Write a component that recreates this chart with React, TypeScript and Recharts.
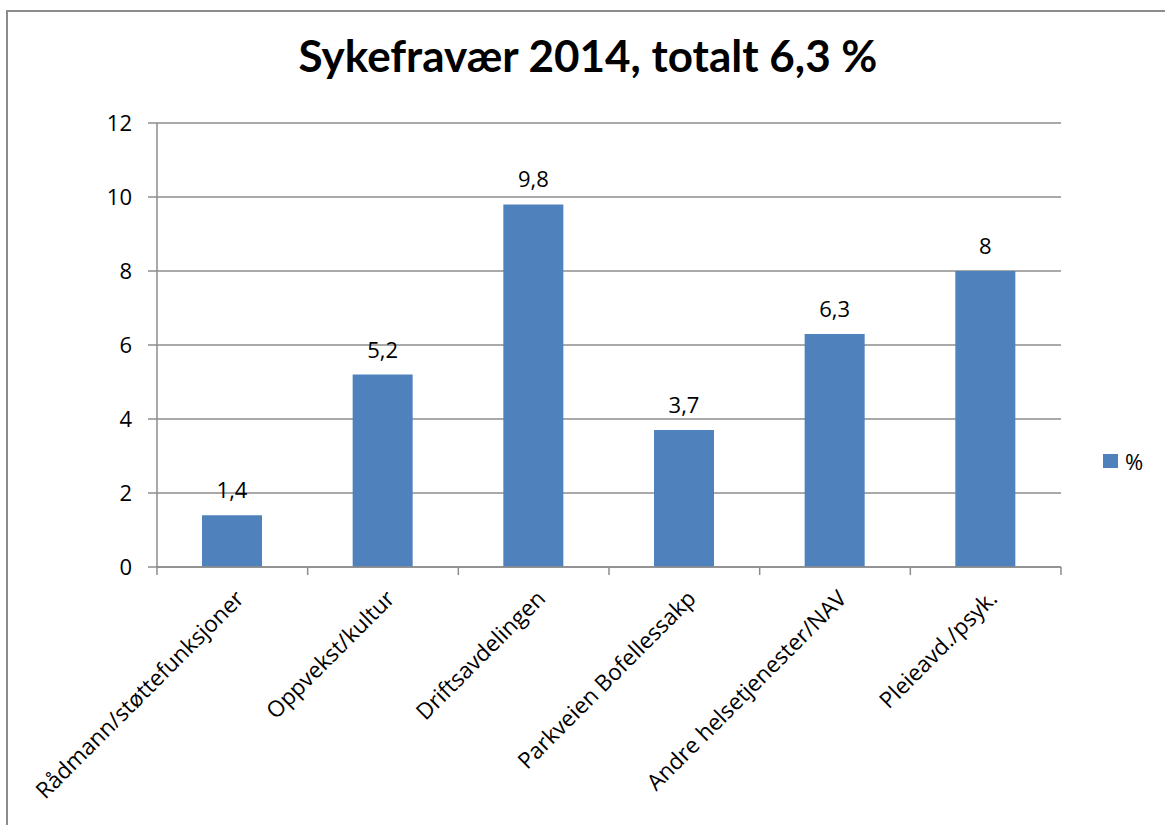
import { BarChart, Bar, XAxis, YAxis, CartesianGrid, LabelList } from "recharts";

const categories = [
  "Rådmann/støttefunksjoner",
  "Oppvekst/kultur",
  "Driftsavdelingen",
  "Parkveien Bofellessakp",
  "Andre helsetjenester/NAV",
  "Pleieavd./psyk.",
];
const values = [1.4, 5.2, 9.8, 3.7, 6.3, 8];
const yTicks = [0, 2, 4, 6, 8, 10, 12];

const data = categories.map((name, i) => ({ name, pct: values[i] }));

const FONT = "'Open Sans', Lato, sans-serif";
const TITLE_FONT = "Lato, 'Open Sans', sans-serif";
const GRID = "#8c8c8c";
const BLUE = "#4f81bd";
const W = 1165;
const H = 825;
const PLOT_LEFT = 157;
const PLOT_RIGHT = 1061;
const PLOT_TOP = 123;
const PLOT_BOTTOM = 567;
const BAND = (PLOT_RIGHT - PLOT_LEFT) / categories.length;

const fmt = (v: number) => String(v).replace(".", ",");

function CategoryTick(props: any) {
  const { x, y, payload, index } = props;
  const left = x - BAND / 2;
  const right = x + BAND / 2;
  const ax = x + 13;
  const ay = y + 33;
  return (
    <g>
      <line x1={left} y1={y} x2={left} y2={y + 8} stroke={GRID} strokeWidth={1.5} />
      {index === categories.length - 1 && (
        <line x1={right} y1={y} x2={right} y2={y + 8} stroke={GRID} strokeWidth={1.5} />
      )}
      <text
        x={ax}
        y={ay}
        textAnchor="end"
        transform={`rotate(-45 ${ax} ${ay})`}
        fontFamily={FONT}
        fontSize={22.5}
        fill="#000"
      >
        {payload.value}
      </text>
    </g>
  );
}

export default function App() {
  return (
    <div style={{ position: "absolute", left: 0, top: 0, width: W, height: H, overflow: "hidden", background: "#fff" }}>
      <div
        style={{
          position: "absolute",
          left: 6,
          top: 10,
          width: 1400,
          height: 1000,
          border: "2px solid #8c8c8c",
        }}
      />
      <div
        style={{
          position: "absolute",
          left: 238,
          top: 30,
          width: 700,
          textAlign: "center",
          fontFamily: TITLE_FONT,
          fontWeight: 700,
          fontSize: 44,
          color: "#000",
          lineHeight: "50px",
        }}
      >
        Sykefravær 2014, totalt 6,3 %
      </div>
      {/* legend */}
      <div
        style={{
          position: "absolute",
          left: 1103,
          top: 446,
          display: "flex",
          alignItems: "center",
          fontFamily: FONT,
          fontSize: 22,
        }}
      >
        <span style={{ width: 15, height: 14, background: BLUE, display: "inline-block", marginRight: 7 }} />
        <span>%</span>
      </div>
      <div style={{ position: "absolute", left: 0, top: 0 }}>
        <BarChart
          width={W}
          height={H}
          data={data}
          margin={{ top: PLOT_TOP, right: W - PLOT_RIGHT, left: PLOT_LEFT - 100, bottom: 0 }}
          barSize={60}
        >
          <CartesianGrid vertical={false} stroke={GRID} strokeWidth={1.5} />
          <XAxis
            dataKey="name"
            height={H - PLOT_BOTTOM}
            interval={0}
            axisLine={{ stroke: GRID, strokeWidth: 1.5 }}
            tickLine={false}
            tickSize={0}
            tickMargin={0}
            tick={<CategoryTick />}
          />
          <YAxis
            width={100}
            domain={[0, 12]}
            ticks={yTicks}
            interval={0}
            axisLine={{ stroke: GRID, strokeWidth: 1.5 }}
            tickLine={{ stroke: GRID, strokeWidth: 1.5 }}
            tickSize={9}
            tickMargin={16}
            tick={{ fill: "#000", fontSize: 22, fontFamily: FONT }}
          />
          <Bar dataKey="pct" name="%" fill={BLUE} isAnimationActive={false}>
            <LabelList
              dataKey="pct"
              position="top"
              offset={17}
              formatter={(v: any) => fmt(Number(v))}
              style={{ fill: "#000", fontSize: 22, fontFamily: FONT }}
            />
          </Bar>
        </BarChart>
      </div>
    </div>
  );
}
